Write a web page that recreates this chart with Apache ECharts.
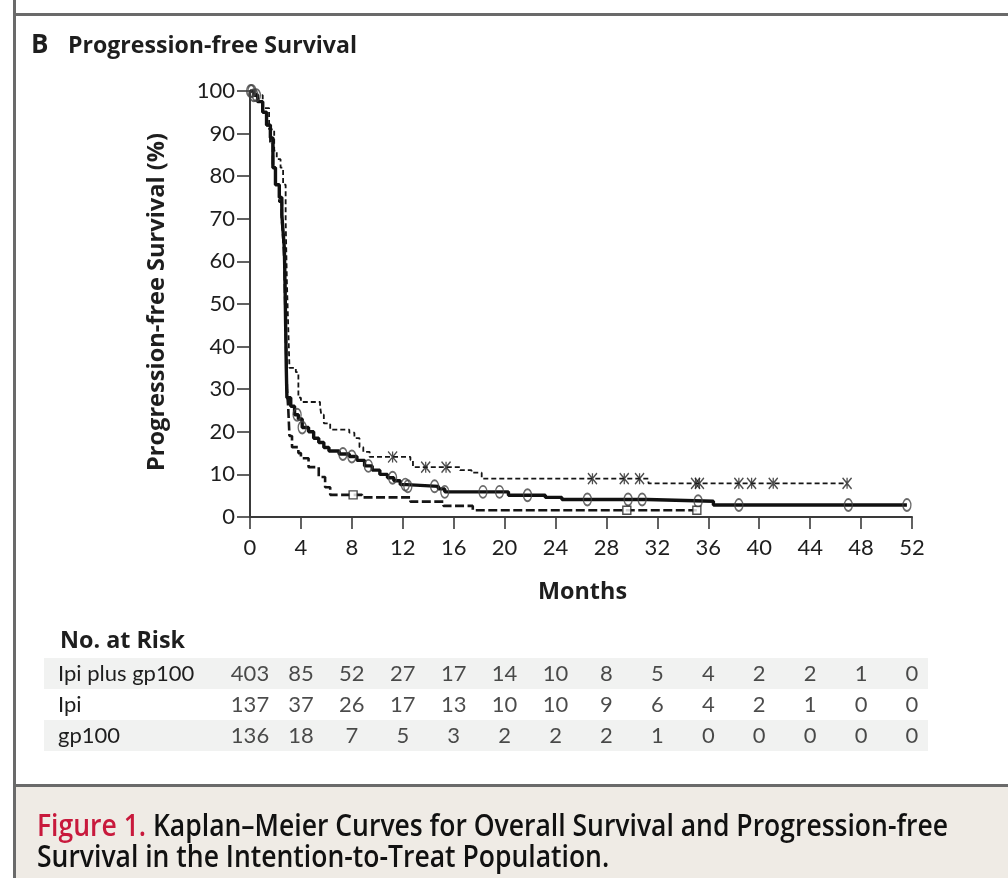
<!DOCTYPE html>
<html>
<head>
<meta charset="utf-8">
<script src="https://cdn.jsdelivr.net/npm/echarts@6/dist/echarts.min.js"></script>
<style>
  html, body { margin: 0; padding: 0; background: #fff; }
  #chart { width: 1008px; height: 878px; }
</style>
</head>
<body>
<div id="chart"></div>
<script>
// Kaplan–Meier step curves: [month, progression-free survival %] at each drop
const ipiGp100Curve = [
  [0, 100], [0.3, 99], [0.6, 97.5], [1.0, 95], [1.3, 92], [1.6, 89], [1.8, 82],
  [2.0, 78], [2.3, 75], [2.5, 71], [2.6, 67], [2.7, 63], [2.75, 55], [2.8, 45],
  [2.85, 35], [2.9, 28], [3.2, 26], [3.5, 24], [3.8, 23], [4.1, 21], [4.6, 20],
  [5.0, 18.5], [5.4, 17.5], [5.8, 16.3], [6.2, 15.5], [7.0, 14.8], [7.8, 14.2],
  [8.4, 13.3], [9.0, 12], [9.6, 11], [10.2, 10], [10.8, 9.2], [11.3, 8.5],
  [11.8, 7.6], [12.3, 7.2], [14.8, 6.6], [15.3, 5.9], [20.3, 5.1], [23.2, 4.6],
  [24.5, 4.1], [31.2, 3.7], [36.4, 2.8], [51.6, 2.8]
];
const ipiCurve = [
  [0, 100], [0.5, 99], [1.0, 96], [1.5, 91], [1.9, 86], [2.1, 84], [2.4, 82],
  [2.6, 78], [2.8, 70], [2.9, 55], [3.0, 45], [3.1, 35], [3.6, 34], [3.8, 28],
  [4.0, 27], [5.5, 26], [5.6, 24], [5.8, 22], [6.3, 20.5], [7.8, 19.8],
  [8.2, 18.5], [8.6, 16.4], [8.9, 15.3], [9.4, 14.1], [12.6, 13.4], [12.8, 11.7],
  [16.5, 11.0], [17.4, 10.4], [18.2, 9.0], [31.3, 7.9], [46.9, 7.9]
];
const gp100Curve = [
  [0, 100], [0.3, 99], [0.6, 97.5], [1.0, 95], [1.3, 92], [1.6, 88], [1.8, 82],
  [2.0, 78], [2.3, 74], [2.5, 70], [2.6, 66], [2.7, 60], [2.8, 45], [2.9, 30],
  [3.0, 25.8], [3.1, 19], [3.3, 16.4], [3.8, 15], [4.0, 13.8], [4.6, 11.7],
  [5.4, 9.4], [5.9, 7.0], [6.3, 5.2], [8.8, 4.6], [12.6, 3.6], [15.2, 2.6],
  [17.5, 1.6], [35.1, 1.6]
];

// Censoring times (months)
const ipiGp100Censored = [0.05, 0.15, 0.3, 0.5, 3.7, 4.1, 7.3, 8.0, 9.3, 11.2, 12.2, 12.4, 14.5, 15.3,
  18.3, 19.6, 21.8, 26.5, 29.7, 30.8, 35.2, 38.4, 47.0, 51.6];
const ipiCensored = [11.2, 13.8, 15.4, 26.9, 29.4, 30.6, 35.0, 35.3, 38.4, 39.4, 41.1, 46.9];
const gp100Censored = [8.1, 29.6, 35.1];

// Number at risk
const riskGroups = ['Ipi plus gp100', 'Ipi', 'gp100'];
const riskMonths = [0, 4, 8, 12, 16, 20, 24, 28, 32, 36, 40, 44, 48, 52];
const riskIpiGp100 = [403, 85, 52, 27, 17, 14, 10, 8, 5, 4, 2, 2, 1, 0];
const riskIpi = [137, 37, 26, 17, 13, 10, 10, 9, 6, 4, 2, 1, 0, 0];
const riskGp100 = [136, 18, 7, 5, 3, 2, 2, 2, 1, 0, 0, 0, 0, 0];

const FONT = 'Lato, "Open Sans", sans-serif';
const BOLD = '700 24px "Open Sans"';
const INK = '#1e1e1e';
const FRAME = '#6a6a6a';

function survivalAt(curve, t) {
  let y = curve[0][1];
  for (const [x, v] of curve) {
    if (x <= t) y = v; else break;
  }
  return y;
}
const censorPoints = (curve, times) => times.map(t => [t, survivalAt(curve, t)]);

const riskData = [];
[riskIpiGp100, riskIpi, riskGp100].forEach((row, r) => {
  row.forEach((n, i) => riskData.push([riskMonths[i], riskGroups[r], n]));
});

// Horizontal scale so a heading occupies a given width
const mctx = document.createElement('canvas').getContext('2d');
function fitScale(text, font, width) {
  mctx.font = font;
  return width / mctx.measureText(text).width;
}

const captionFont = '600 30px "Open Sans"';
const caption1 = 'Figure 1. Kaplan–Meier Curves for Overall Survival and Progression-free';
const caption2 = 'Survival in the Intention-to-Treat Population.';
const capScale = fitScale(caption1, captionFont, 911);

function heading(text, x, y, width, extra) {
  return Object.assign({
    type: 'text', x, y, scaleX: fitScale(text, BOLD, width),
    style: { text, font: BOLD, fill: INK, verticalAlign: 'middle' }
  }, extra || {});
}

const chart = echarts.init(document.getElementById('chart'), null, { renderer: 'canvas' });

const yTitle = 'Progression-free Survival (%)';

const option = {
  backgroundColor: '#ffffff',
  animation: false,
  textStyle: { fontFamily: FONT, color: INK },
  grid: [
    { left: 250, right: 96, top: 91, bottom: 361, containLabel: false },
    { left: 250, right: 96, top: 658, height: 93, containLabel: false }
  ],
  xAxis: [
    {
      gridIndex: 0, type: 'value', min: 0, max: 52, interval: 4,
      axisLine: { show: true, lineStyle: { color: '#3a3a3a', width: 2 } },
      axisTick: { show: true, length: 12, lineStyle: { color: '#3a3a3a', width: 1.6 } },
      axisLabel: { fontSize: 22, color: INK, margin: 20, fontFamily: FONT },
      splitLine: { show: false }
    },
    { gridIndex: 1, type: 'value', min: 0, max: 52, show: false }
  ],
  yAxis: [
    {
      gridIndex: 0, type: 'value', min: 0, max: 100, interval: 10,
      axisLine: { show: true, lineStyle: { color: '#3a3a3a', width: 2 } },
      axisTick: { show: true, length: 13, lineStyle: { color: '#3a3a3a', width: 1.6 } },
      axisLabel: { fontSize: 22, color: INK, margin: 15, fontFamily: FONT },
      splitLine: { show: false }
    },
    {
      gridIndex: 1, type: 'category', data: riskGroups, inverse: true,
      axisLine: { show: false }, axisTick: { show: false },
      axisLabel: { fontSize: 22, color: INK, margin: 192, align: 'left', fontFamily: FONT }
    }
  ],
  graphic: [
    // frame
    { type: 'rect', shape: { x: 13, y: 0, width: 3, height: 878 }, style: { fill: FRAME }, z: 10 },
    { type: 'rect', shape: { x: 13, y: 13, width: 995, height: 3 }, style: { fill: FRAME }, z: 10 },
    // caption band
    { type: 'rect', shape: { x: 16, y: 787, width: 992, height: 91 }, style: { fill: '#efebe5' }, z: 0 },
    { type: 'rect', shape: { x: 13, y: 784, width: 995, height: 3 }, style: { fill: FRAME }, z: 10 },
    // risk table stripes
    { type: 'rect', shape: { x: 44, y: 658, width: 884, height: 31 }, style: { fill: '#f1f2f1' }, z: -1 },
    { type: 'rect', shape: { x: 44, y: 720, width: 884, height: 31 }, style: { fill: '#f1f2f1' }, z: -1 },
    // headings
    { type: 'text', x: 31, y: 46, style: { text: 'B', font: '700 26px "Open Sans"', fill: INK, verticalAlign: 'middle' } },
    heading('Progression-free Survival', 68, 46, 289),
    heading(yTitle, 157, 471, 338, { rotation: Math.PI / 2 }),
    heading('Months', 538, 592, 89),
    heading('No. at Risk', 60, 641, 125),
    // caption
    { type: 'text', x: 37, y: 827, scaleX: capScale, z: 5,
      style: {
        text: '{r|Figure 1.} Kaplan–Meier Curves for Overall Survival and Progression-free',
        font: captionFont, fill: '#111', verticalAlign: 'middle',
        rich: { r: { fill: '#c8193c', font: captionFont } }
      } },
    { type: 'text', x: 37, y: 858, scaleX: capScale, z: 5,
      style: { text: caption2, font: captionFont, fill: '#111', verticalAlign: 'middle' } }
  ],
  series: [
    {
      name: 'Ipi', type: 'line', step: 'end', xAxisIndex: 0, yAxisIndex: 0,
      data: ipiCurve, showSymbol: false, silent: true,
      lineStyle: { color: '#151515', width: 1.8, type: [5, 3] }, z: 3
    },
    {
      name: 'gp100', type: 'line', step: 'end', xAxisIndex: 0, yAxisIndex: 0,
      data: gp100Curve, showSymbol: false, silent: true,
      lineStyle: { color: '#151515', width: 2.6, type: [9, 3.5] }, z: 3
    },
    {
      name: 'Ipi plus gp100', type: 'line', step: 'end', xAxisIndex: 0, yAxisIndex: 0,
      data: ipiGp100Curve, showSymbol: false, silent: true,
      lineStyle: { color: '#111', width: 3.4 }, z: 4
    },
    {
      name: 'Ipi plus gp100 censored', type: 'scatter', xAxisIndex: 0, yAxisIndex: 0,
      data: censorPoints(ipiGp100Curve, ipiGp100Censored),
      symbol: 'circle', symbolSize: [8, 12],
      itemStyle: { color: 'rgba(0,0,0,0)', borderColor: '#444', borderWidth: 1.6 }, z: 5
    },
    {
      name: 'Ipi censored', type: 'scatter', xAxisIndex: 0, yAxisIndex: 0,
      data: censorPoints(ipiCurve, ipiCensored),
      symbol: 'path://M0,0L10,12M10,0L0,12M5,0L5,12', symbolSize: [9, 11],
      itemStyle: { color: 'rgba(0,0,0,0)', borderColor: '#222', borderWidth: 1.4 }, z: 5
    },
    {
      name: 'gp100 censored', type: 'scatter', xAxisIndex: 0, yAxisIndex: 0,
      data: censorPoints(gp100Curve, gp100Censored),
      symbol: 'rect', symbolSize: 8,
      itemStyle: { color: '#fff', borderColor: '#222', borderWidth: 1.4 }, z: 5
    },
    {
      name: 'No. at risk', type: 'scatter', xAxisIndex: 1, yAxisIndex: 1,
      data: riskData, symbolSize: 0, silent: true,
      label: {
        show: true, position: 'inside', formatter: p => String(p.value[2]),
        fontSize: 22, color: INK, fontFamily: FONT
      },
      labelLayout: { hideOverlap: false }
    }
  ]
};

chart.setOption(option);
</script>
</body>
</html>
